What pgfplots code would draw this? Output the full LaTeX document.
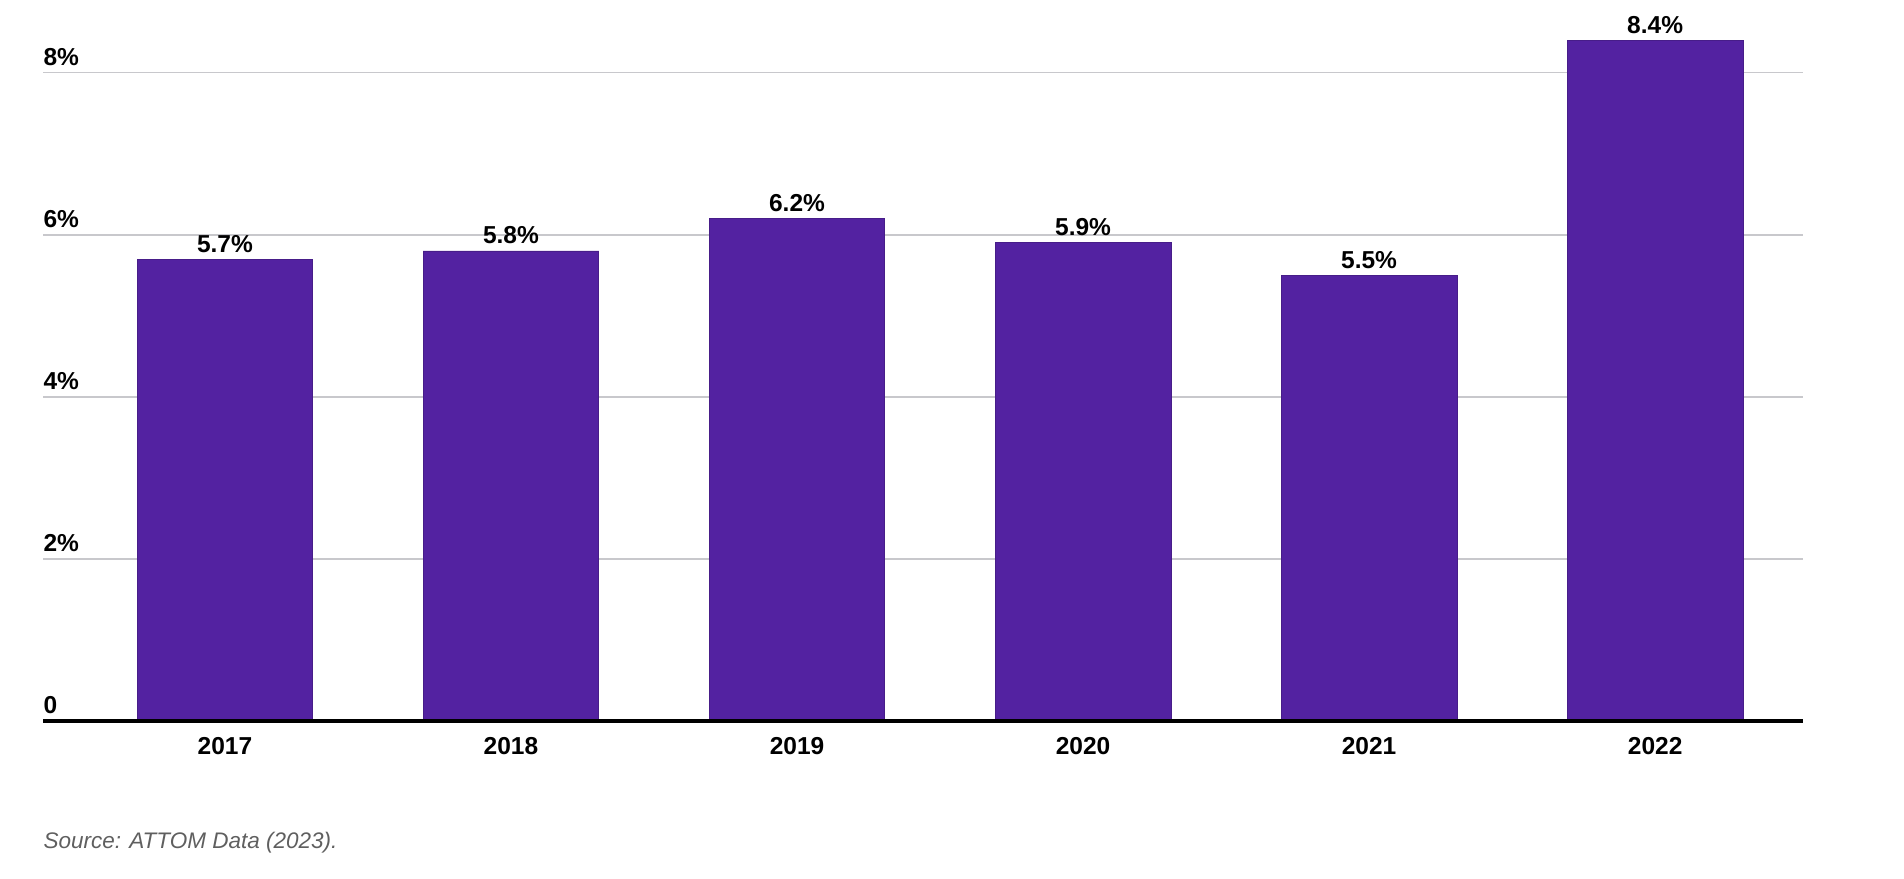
\documentclass[border=0pt]{standalone}
\usepackage{pgfplots}
\pgfplotsset{compat=1.18}
\usepackage{fontspec}
\setmainfont{Liberation Sans}
\definecolor{barpurple}{RGB}{83,34,161}
\definecolor{gridgray}{RGB}{200,200,204}
\definecolor{srcgray}{RGB}{95,95,95}
\begin{document}
\begin{tikzpicture}
\useasboundingbox (0,0) rectangle (761.6pt,351.2pt);
\begin{axis}[
  at={(17.2pt,62.8pt)}, anchor=south west,
  scale only axis, width=704pt, height=285.3pt,
  xmin=-0.636, xmax=5.517, ymin=0, ymax=8.8,
  axis line style={draw=none},
  clip=false,
  /pgf/number format/assume math mode=true,
  ybar, bar width=0.614, bar shift=0pt,
  xtick=data, xticklabels={2017,2018,2019,2020,2021,2022},
  ytick={0,2,4,6,8}, yticklabels={0,2\%,4\%,6\%,8\%},
  ymajorgrids, major grid style={gridgray, line width=0.7pt},
  tick style={draw=none},
  xticklabel style={font=\fontsize{9.8}{10}\selectfont\bfseries, anchor=base, inner sep=0pt, yshift=-9.3pt},
  yticklabel style={font=\fontsize{9.8}{10}\selectfont\bfseries, anchor=base west, inner sep=0pt, yshift=3pt},
  nodes near coords={\pgfmathprintnumber[fixed,precision=1,fixed zerofill,assume math mode=true]{\pgfplotspointmeta}\%},
  nodes near coords style={font=\fontsize{9.8}{10}\selectfont\bfseries, anchor=base, inner sep=0pt, yshift=2.8pt},
]
\addplot[fill=barpurple, draw=barpurple!85!black, line width=0.3pt] coordinates {(0,5.7) (1,5.8) (2,6.2) (3,5.9) (4,5.5) (5,8.4)};
\draw[black, line width=1.3pt] (axis cs:-0.636,0) -- (axis cs:5.517,0);
\end{axis}
\node[anchor=base west, inner sep=0pt, text=srcgray, font=\fontsize{9}{10}\selectfont\itshape] at (17.2pt,12pt) {Source: ATTOM Data (2023).};
\end{tikzpicture}
\end{document}
